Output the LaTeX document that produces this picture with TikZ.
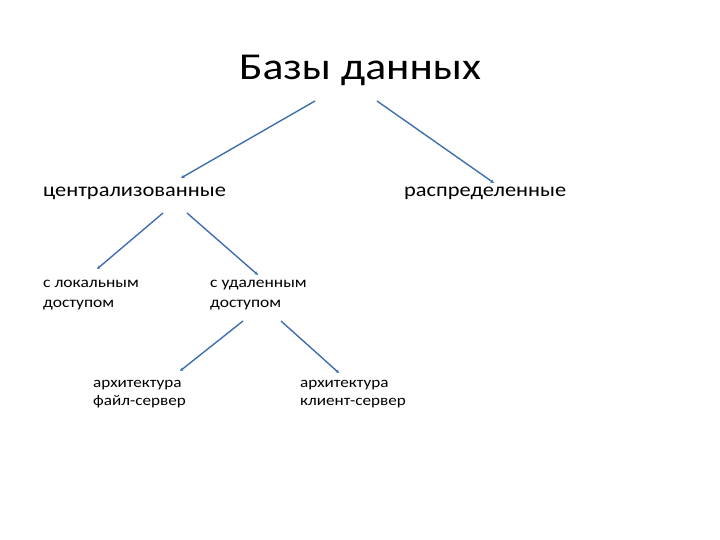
\documentclass[tikz,border=0pt]{standalone}
\usepackage{fontspec}
\setmainfont{Carlito}[FakeStretch=1.15]
\usetikzlibrary{arrows.meta}
\definecolor{arrowblue}{HTML}{3F6FAD}
\tikzset{
  lbl/.style={anchor=west, inner sep=0pt, align=left},
  conn/.style={draw=arrowblue, line width=1.4pt, -{Stealth[length=3.5pt,width=3.5pt]}},
}
\begin{document}
\begin{tikzpicture}[x=1pt,y=-1pt]
\useasboundingbox (0,0) rectangle (720,540);
\node[inner sep=0pt, font=\fontsize{38}{44}\selectfont] (title) at (360,70) {Базы данных};
\node[lbl, font=\fontsize{19.5}{23}\selectfont] (central) at (43,193) {централизованные};
\node[lbl, font=\fontsize{19.5}{23}\selectfont] (distrib) at (404,193) {распределенные};
\node[lbl, font=\fontsize{15.2}{19.5}\selectfont] (local) at (43,295) {с локальным\\доступом};
\node[lbl, font=\fontsize{15.2}{19.5}\selectfont] (remote) at (210,295) {с удаленным\\доступом};
\node[lbl, font=\fontsize{14.9}{17.5}\selectfont] (fileserv) at (93,394) {архитектура\\файл-сервер};
\node[lbl, font=\fontsize{14.9}{17.5}\selectfont] (clientserv) at (300,394) {архитектура\\клиент-сервер};
\coordinate (t1) at (315,101); \coordinate (e1) at (181,178);
\coordinate (t2) at (377,101); \coordinate (e2) at (494,183);
\coordinate (c1) at (163,213); \coordinate (e3) at (97,269);
\coordinate (c2) at (187,213); \coordinate (e4) at (258,275);
\coordinate (r1) at (243,321); \coordinate (e5) at (180,371);
\coordinate (r2) at (281,321); \coordinate (e6) at (339,373);
\draw[conn] (t1) -- (e1);
\draw[conn] (t2) -- (e2);
\draw[conn] (c1) -- (e3);
\draw[conn] (c2) -- (e4);
\draw[conn] (r1) -- (e5);
\draw[conn] (r2) -- (e6);
\end{tikzpicture}
\end{document}
